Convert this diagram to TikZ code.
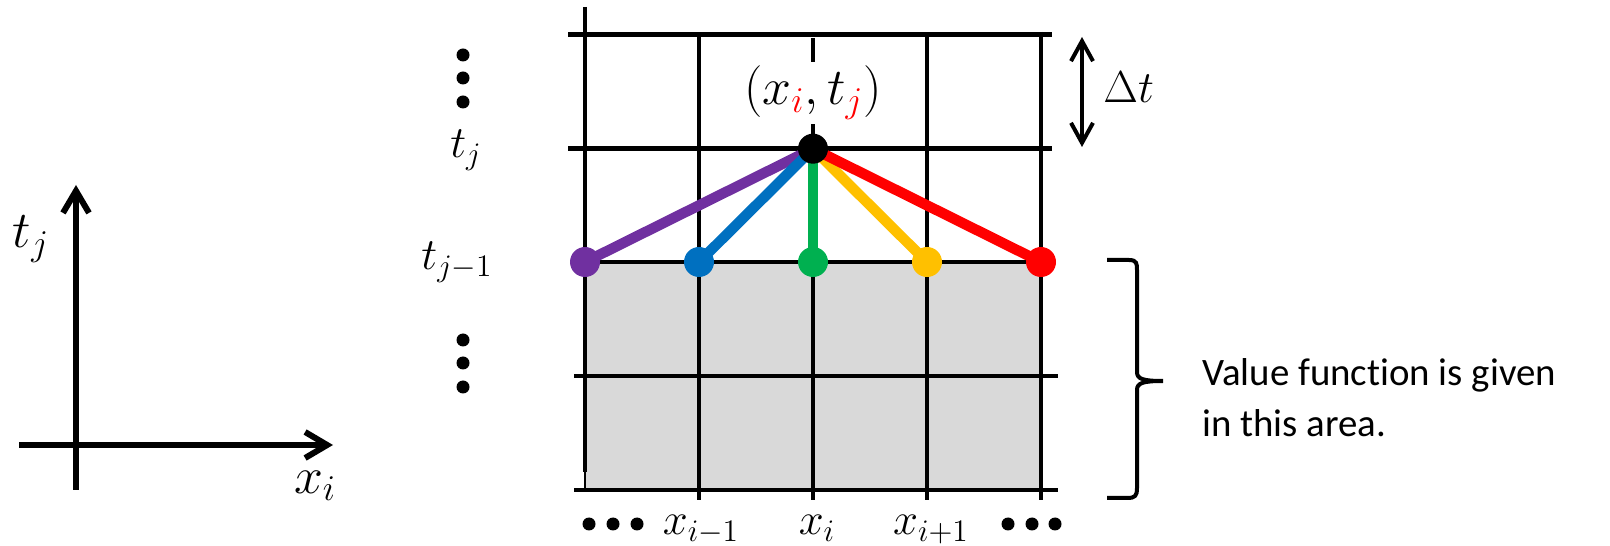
\RequirePackage{fix-cm}
\documentclass[tikz,border=0pt]{standalone}
\usepackage{fontspec}
\newfontfamily\calibri[Ligatures=NoCommon]{Carlito}
\usetikzlibrary{arrows.meta}
\definecolor{cpurple}{HTML}{7030A0}
\definecolor{cblue}{HTML}{0070C0}
\definecolor{cgreen}{HTML}{00B050}
\definecolor{cyellow}{HTML}{FFC000}
\definecolor{cred}{HTML}{FF0000}
\definecolor{cgray}{HTML}{D9D9D9}
\pgfdeclarelayer{back}
\pgfdeclarelayer{mid}
\pgfsetlayers{back,mid,main}
\begin{document}
\begin{tikzpicture}[x=0.5bp,y=-0.5bp,
  gridline/.style={line width=2.4bp},
  edge/.style={line width=5.2bp},
  pt/.style={circle,inner sep=0pt,minimum size=15bp,fill=#1},
  ell/.style={circle,inner sep=0pt,minimum size=6.5bp,fill=black},
  axis/.style={line width=3bp,-{Straight Barb[length=11bp,width=13bp]}},
  dtarrow/.style={line width=2bp,{Straight Barb[length=10bp,width=11bp]}-{Straight Barb[length=10bp,width=11bp]}},
  bracestyle/.style={line width=2bp},
  bigmath/.style={font=\fontsize{26}{30}\selectfont},
  smallmath/.style={font=\fontsize{22.5}{26}\selectfont},
  txt/.style={font=\calibri\fontsize{19.5}{25.5}\selectfont}
]
\useasboundingbox (0,0) rectangle (1610,546);

% left axes
\coordinate (xa0) at (19,445);
\coordinate (xa1) at (333,445);
\coordinate (ya0) at (76,490);
\coordinate (ya1) at (76,185);
\draw[axis] (xa0) -- (xa1);
\draw[axis] (ya0) -- (ya1);
\node[bigmath,anchor=base] (lt) at (31,248) {$t_j$};
\node[bigmath,anchor=base] (lx) at (315,493) {$x_i$};

% grid
\begin{pgfonlayer}{back}
\fill[cgray] (585,262) rectangle (1041,490);
\draw[gridline] (568,34.7) -- (1052,34.7);
\draw[gridline] (568,148.7) -- (1052,148.7);
\draw[gridline] (585,262) -- (1041,262);
\draw[gridline] (574,376) -- (1058,376);
\draw[gridline] (574,490) -- (1058,490);
\draw[gridline] (585,7) -- (585,472);
\draw[line width=0.6bp] (585,472) -- (585,490);
\draw[gridline] (699,34.7) -- (699,500);
\draw[gridline] (813,38) -- (813,500);
\draw[gridline] (927,34.7) -- (927,500);
\draw[gridline] (1041,32) -- (1041,500);
\end{pgfonlayer}

% label
\node[bigmath,fill=white,inner sep=2bp] (lbl) at (813,93) {$(x_{\color{cred}i},t_{\color{cred}j})$};

% points
\node[pt=black] (c) at (813,148.7) {};
\node[pt=cpurple] (p1) at (585,262) {};
\node[pt=cblue] (p2) at (699,262) {};
\node[pt=cgreen] (p3) at (813,262) {};
\node[pt=cyellow] (p4) at (927,262) {};
\node[pt=cred] (p5) at (1041,262) {};
\begin{pgfonlayer}{mid}
\draw[edge,cpurple] (c.center) -- (p1.center);
\draw[edge,cblue] (c.center) -- (p2.center);
\draw[edge,cgreen] (c.center) -- (p3.center);
\draw[edge,cyellow] (c.center) -- (p4.center);
\draw[edge,cred] (c.center) -- (p5.center);
\end{pgfonlayer}

% vertical ellipses
\node[ell] (v1) at (463,55) {};
\node[ell] (v2) at (463,78) {};
\node[ell] (v3) at (463,102) {};
\node[ell] (v4) at (463,340) {};
\node[ell] (v5) at (463,363) {};
\node[ell] (v6) at (463,387) {};
% horizontal ellipses
\node[ell] (h1) at (589,524) {};
\node[ell] (h2) at (613,524) {};
\node[ell] (h3) at (637,524) {};
\node[ell] (h4) at (1008,524) {};
\node[ell] (h5) at (1032,524) {};
\node[ell] (h6) at (1055,524) {};

% grid labels
\node[smallmath,anchor=base] (ltj) at (466,158) {$t_j$};
\node[smallmath,anchor=base] (ltj1) at (457,270) {$t_{j-1}$};
\node[smallmath,anchor=base] (lx1) at (701,535) {$x_{i-1}$};
\node[smallmath,anchor=base] (lx2) at (817,535) {$x_i$};
\node[smallmath,anchor=base] (lx3) at (931,535) {$x_{i+1}$};

% Delta t
\coordinate (dtA) at (1082,37);
\coordinate (dtB) at (1082,147);
\draw[dtarrow] (dtA) -- (dtB);
\node[smallmath,anchor=base west,inner sep=0pt] (dt) at (1103,103) {$\Delta t$};

% brace
\draw[bracestyle] (1107,260) -- (1129,260) .. controls (1137,260) and (1137,264) .. (1137,270)
  -- (1137,372) .. controls (1137,379) and (1143,381) .. (1163,381)
  .. controls (1143,381) and (1137,383) .. (1137,390)
  -- (1137,488) .. controls (1137,496) and (1135,498) .. (1127,498) -- (1107,498);

\node[txt,anchor=north west,align=left,inner sep=0pt] (note) at (1202,358) {Value function is given\\in this area.};
\end{tikzpicture}
\end{document}
